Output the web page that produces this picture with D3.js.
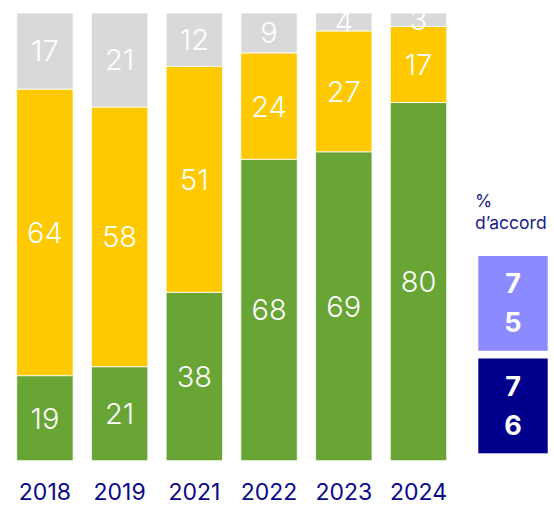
<!DOCTYPE html>
<html><head><meta charset="utf-8">
<script src="https://cdn.jsdelivr.net/npm/d3@7"></script>
<style>body{margin:0;background:#fff}svg{display:block}</style>
</head><body>
<svg id="c" width="554" height="507"></svg>
<script>
const years = ["2018","2019","2021","2022","2023","2024"];
const green = [19,21,38,68,69,80];
const yellow = [64,58,51,24,27,17];
const gray = [17,21,12,9,4,3];
const keys = ["green","yellow","gray"];
const colors = {green:"#68a535", yellow:"#ffc900", gray:"#d9d9d9"};
const agreeLabel = ["%","d\u2019accord"];
const agreeValues = [75,76];
const agreeColors = ["#8b8bff","#00008c"];

const FONT = "Inter, Lato, sans-serif";
const data = years.map((y,i)=>({year:y, green:green[i], yellow:yellow[i], gray:gray[i]}));
const svg = d3.select("#c");
const x = d3.scaleBand().domain(years).range([16.7,446.7]).paddingInner(0.245).paddingOuter(0);
const y = d3.scaleLinear().domain([0,1]).range([460.7,13]);
const stack = d3.stack().keys(keys).offset(d3.stackOffsetExpand);
const series = stack(data);

const g = svg.append("g");
series.forEach(s=>{
  g.selectAll(null).data(s).enter().append("rect")
    .attr("x",d=>x(d.data.year)).attr("width",x.bandwidth())
    .attr("y",d=>y(d[1])).attr("height",d=>y(d[0])-y(d[1]))
    .attr("fill",colors[s.key]).attr("stroke","#fff").attr("stroke-width",1).attr("stroke-opacity",0.8);
});
series.forEach(s=>{
  g.selectAll(null).data(s).enter().append("text")
    .attr("x",d=>x(d.data.year)+x.bandwidth()/2)
    .attr("y",d=>(y(d[0])+y(d[1]))/2)
    .attr("dy","0.36em").attr("text-anchor","middle")
    .attr("fill","#fff").attr("font-family",FONT).attr("font-weight",350).attr("font-size",29)
    .text(d=>d.data[s.key]);
});
const xAxis = d3.axisBottom(x).tickSize(0).tickPadding(0);
const ax = svg.append("g").attr("transform","translate(0,500)").call(xAxis);
ax.select(".domain").remove();
ax.selectAll("text").attr("fill","#0a0a8c").attr("font-family",FONT).attr("font-size",23).attr("dy",0).attr("y",0);

// right legend
const lab = svg.append("text").attr("fill","#1a1a8c").attr("font-family",FONT).attr("font-size",17.5);
agreeLabel.forEach((t,i)=>lab.append("tspan").attr("x",475).attr("y",207+i*22).text(t));
const by = d3.scaleBand().domain(d3.range(agreeValues.length)).range([256,453.3]).paddingInner(0.075).paddingOuter(0);
agreeValues.forEach((v,i)=>{
  svg.append("rect").attr("x",478.3).attr("y",by(i)).attr("width",69.4).attr("height",by.bandwidth()).attr("fill",agreeColors[i]);
  const t = svg.append("text").attr("fill","#fff").attr("font-family",FONT).attr("font-weight","bold").attr("font-size",27).attr("text-anchor","middle");
  String(v).split("").forEach((c,j)=>t.append("tspan").attr("x",513).attr("y",by(i)+by.bandwidth()/2+(j===0?-10:29)).text(c));
});
</script>
</body></html>
